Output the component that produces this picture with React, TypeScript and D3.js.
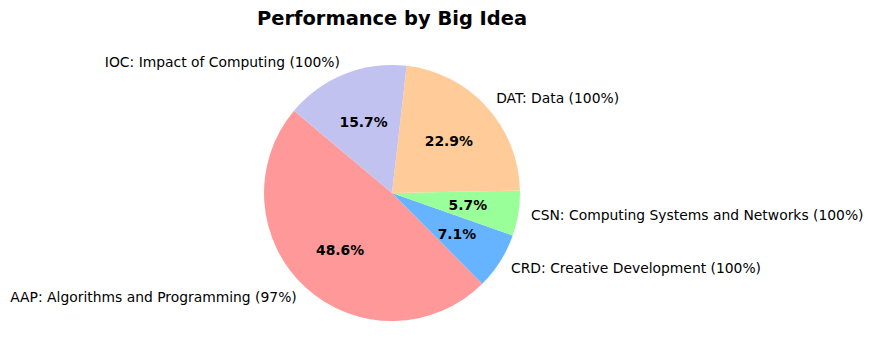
import React, { useEffect, useRef } from "react";
import * as d3 from "d3";

// counts per big idea (share of 70 questions)
const labels = [
  "AAP: Algorithms and Programming (97%)",
  "CRD: Creative Development (100%)",
  "CSN: Computing Systems and Networks (100%)",
  "DAT: Data (100%)",
  "IOC: Impact of Computing (100%)",
];
const counts = [34, 5, 4, 16, 11];
const colors = ["#ff9999", "#66b3ff", "#99ff99", "#ffcc99", "#c2c2f0"];

const W = 873;
const H = 363;

function App() {
  const ref = useRef<SVGSVGElement>(null);

  useEffect(() => {
    const svg = d3.select(ref.current);
    svg.selectAll("*").remove();

    const cx = 392;
    const cy = 193;
    const r = 128;
    const font = "'DejaVu Sans', sans-serif";

    svg
      .append("text")
      .attr("x", cx)
      .attr("y", 18)
      .attr("text-anchor", "middle")
      .attr("dominant-baseline", "central")
      .attr("font-family", font)
      .attr("font-size", 19.44)
      .attr("font-weight", "bold")
      .text("Performance by Big Idea");

    // matplotlib startangle=140, counterclockwise
    const start = ((90 - 140) * Math.PI) / 180;
    const pie = d3
      .pie<number>()
      .sort(null)
      .startAngle(start)
      .endAngle(start - 2 * Math.PI);
    const arcs = pie(counts);
    const total = d3.sum(counts);

    const g = svg.append("g").attr("transform", `translate(${cx},${cy})`);
    const arc = d3.arc<d3.PieArcDatum<number>>().innerRadius(0).outerRadius(r);

    g.selectAll("path.slice")
      .data(arcs)
      .enter()
      .append("path")
      .attr("class", "slice")
      .attr("d", arc)
      .attr("fill", (d, i) => colors[i]);

    const mid = (d) => (d.startAngle + d.endAngle) / 2;

    g.selectAll("text.lbl")
      .data(arcs)
      .enter()
      .append("text")
      .attr("class", "lbl")
      .attr("x", (d) => Math.sin(mid(d)) * r * 1.1)
      .attr("y", (d) => -Math.cos(mid(d)) * r * 1.1)
      .attr("text-anchor", (d) => (Math.sin(mid(d)) > 0 ? "start" : "end"))
      .attr("dominant-baseline", "central")
      .attr("font-family", font)
      .attr("font-size", 13.89)
      .text((d, i) => labels[i]);

    g.selectAll("text.pct")
      .data(arcs)
      .enter()
      .append("text")
      .attr("class", "pct")
      .attr("x", (d) => Math.sin(mid(d)) * r * 0.6)
      .attr("y", (d) => -Math.cos(mid(d)) * r * 0.6)
      .attr("text-anchor", "middle")
      .attr("dominant-baseline", "central")
      .attr("font-family", font)
      .attr("font-size", 13.89)
      .attr("font-weight", "bold")
      .text((d) => ((d.data / total) * 100).toFixed(1) + "%");
  }, []);

  return (
    <svg
      ref={ref}
      width={W}
      height={H}
      style={{ position: "absolute", left: 0, top: 0, background: "#fff" }}
    />
  );
}

export default App;
